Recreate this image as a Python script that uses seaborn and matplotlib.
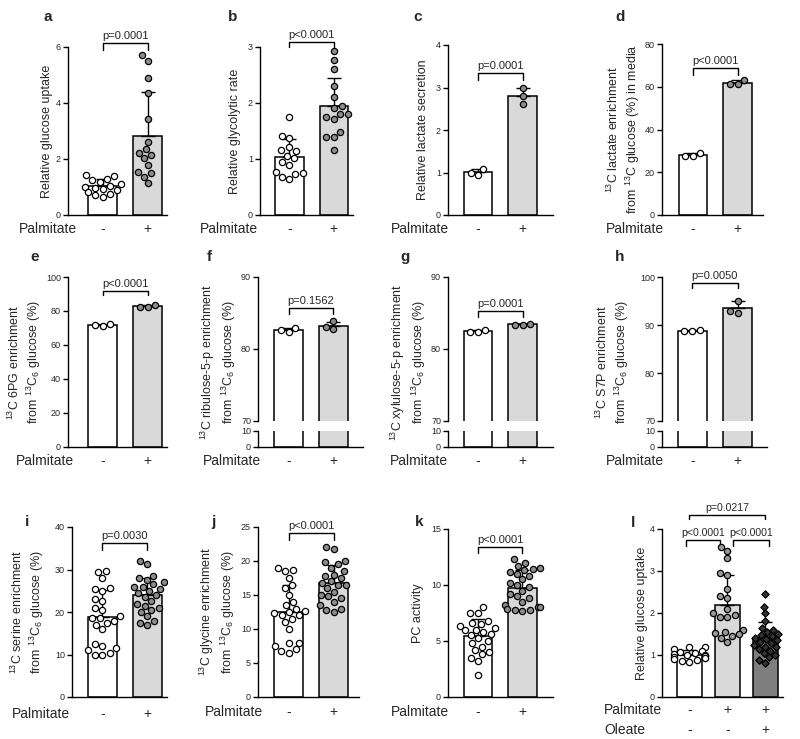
import warnings
import numpy as np
import pandas as pd
import seaborn as sns
import matplotlib.pyplot as plt

warnings.filterwarnings("ignore")

sns.set_style("ticks")
plt.rcParams["font.family"] = ["Liberation Sans", "DejaVu Sans"]
plt.rcParams["mathtext.fontset"] = "custom"
plt.rcParams["mathtext.rm"] = "Liberation Sans"
plt.rcParams["mathtext.it"] = "Liberation Sans:italic"
plt.rcParams["mathtext.bf"] = "Liberation Sans:bold"
plt.rcParams["axes.linewidth"] = 1.0
plt.rcParams["axes.edgecolor"] = "black"

# ---- data ----
two_groups = ["-", "+"]
three_groups = ["-\n-", "+\n-", "+\n+"]

a_ctrl = [1.42, 1.38, 1.30, 1.25, 1.18, 1.10, 1.05, 1.00, 0.97, 0.93, 0.88, 0.82, 0.76, 0.70, 0.65]
a_palm = [5.70, 5.50, 4.89, 4.36, 3.44, 2.61, 2.34, 2.22, 2.14, 2.02, 1.78, 1.54, 1.51, 1.37, 1.13]
b_ctrl = [1.75, 1.41, 1.37, 1.22, 1.16, 1.14, 1.06, 1.01, 0.95, 0.90, 0.77, 0.75, 0.74, 0.67, 0.65]
b_palm = [2.92, 2.76, 2.60, 2.30, 2.11, 1.94, 1.91, 1.81, 1.80, 1.75, 1.72, 1.49, 1.40, 1.40, 1.16]
c_ctrl = [1.08, 1.00, 0.94]
c_palm = [2.98, 2.80, 2.62]
d_ctrl = [27.6, 29.0, 27.5]
d_palm = [61.2, 63.2, 61.5]
e_ctrl = [71.2, 72.6, 71.9]
e_palm = [82.2, 83.4, 82.5]
f_ctrl = [82.3, 82.9, 82.7]
f_palm = [83.9, 83.0, 82.8]
g_ctrl = [82.3, 82.6, 82.4]
g_palm = [83.4, 83.5, 83.4]
h_ctrl = [88.7, 89.0, 88.8]
h_palm = [95.1, 92.6, 93.0]
i_ctrl = [29.6, 29.4, 28.0, 25.5, 25.6, 25.0, 23.0, 22.5, 21.0, 20.5, 19.0, 18.5,
          18.5, 18.0, 17.5, 17.0, 16.0, 12.5, 12.0, 11.5, 11.0, 10.0, 10.3, 10.0]
i_palm = [32.0, 31.3, 28.5, 28.0, 27.5, 27.0, 26.5, 26.0, 26.0, 25.5, 25.0, 24.5,
          24.0, 23.5, 22.5, 22.0, 21.5, 21.0, 20.5, 20.0, 19.0, 18.0, 17.5, 17.0]
j_ctrl = [19.0, 18.7, 18.5, 17.5, 16.5, 16.0, 15.0, 14.0, 13.5, 13.0, 12.7, 12.5,
          12.3, 12.0, 12.0, 11.5, 11.0, 10.0, 8.0, 8.0, 7.5, 7.0, 6.8, 6.5]
j_palm = [22.0, 21.7, 20.0, 19.8, 19.5, 19.0, 18.5, 18.0, 17.8, 17.5, 17.0, 16.8,
          16.5, 16.5, 16.0, 15.5, 15.0, 14.8, 14.5, 14.0, 13.5, 13.0, 12.8, 12.5]
k_ctrl = [8.0, 7.5, 7.5, 6.8, 6.6, 6.5, 6.3, 6.2, 6.0, 6.0, 5.8, 5.6, 5.5, 5.3,
          5.0, 4.8, 4.5, 4.2, 4.0, 3.8, 3.5, 3.2, 2.0]
k_palm = [12.3, 12.0, 11.7, 11.5, 11.4, 11.3, 11.2, 11.0, 10.8, 10.5, 10.2, 10.0, 9.8,
          9.5, 9.2, 9.0, 8.8, 8.5, 8.2, 8.0, 8.0, 7.9, 7.8, 7.8, 7.7]
l_ctrl = [1.20, 1.18, 1.15, 1.10, 1.08, 1.05, 1.02, 1.00, 1.00, 0.98, 0.95, 0.92,
          0.90, 0.88, 0.85, 0.83]
l_palm = [3.58, 3.48, 3.30, 2.95, 2.90, 2.58, 2.40, 2.35, 2.10, 2.00, 1.90, 1.95,
          1.90, 1.60, 1.55, 1.52, 1.50, 1.45, 1.40, 1.30]
l_palm_ole = [2.45, 2.15, 2.00, 1.80, 1.65, 1.60, 1.55, 1.50, 1.48, 1.45, 1.40, 1.38,
              1.35, 1.30, 1.28, 1.25, 1.20, 1.18, 1.15, 1.10, 1.05, 1.00, 0.95, 0.88, 0.82]

p_values = {
    "a": ["p=0.0001"], "b": ["p<0.0001"], "c": ["p=0.0001"], "d": ["p<0.0001"],
    "e": ["p<0.0001"], "f": ["p=0.1562"], "g": ["p=0.0001"], "h": ["p=0.0050"],
    "i": ["p=0.0030"], "j": ["p<0.0001"], "k": ["p<0.0001"],
    "l": ["p=0.0217", "p<0.0001", "p<0.0001"],
}

sub6 = r"from $^{13}$C$_6$ glucose (%)"
ylabels = {
    "a": "Relative glucose uptake",
    "b": "Relative glycolytic rate",
    "c": "Relative lactate secretion",
    "d": "$^{13}$C lactate enrichment\n" + r"from $^{13}$C glucose (%) in media",
    "e": "$^{13}$C 6PG enrichment\n" + sub6,
    "f": "$^{13}$C ribulose-5-p enrichment\n" + sub6,
    "g": "$^{13}$C xylulose-5-p enrichment\n" + sub6,
    "h": "$^{13}$C S7P enrichment\n" + sub6,
    "i": "$^{13}$C serine enrichment\n" + sub6,
    "j": "$^{13}$C glycine enrichment\n" + sub6,
    "k": "PC activity",
    "l": "Relative glucose uptake",
}

WHITE, LIGHT, MID, DARK = "white", "#d9d9d9", "#8c8c8c", "#7f7f7f"

# ---- layout (pixel boxes of each panel) ----
panels = [
    dict(key="a", data=[a_ctrl, a_palm], box=(68, 47, 167, 215), xlim=(-0.77, 1.43), ylim=(0, 6),
         yticks=[0, 2, 4, 6], ylx=47, letter=(43, 21), palm_x=19, pad=5,
         br=[(0, 1, 6.14, 0.25)]),
    dict(key="b", data=[b_ctrl, b_palm], box=(260, 47, 353, 215), xlim=(-0.66, 1.43), ylim=(0, 3),
         yticks=[0, 1, 2, 3], ylx=235, letter=(228, 21), palm_x=200, pad=5,
         br=[(0, 1, 3.09, 0.09)]),
    dict(key="c", data=[c_ctrl, c_palm], box=(448, 45, 553, 215), xlim=(-0.67, 1.68), ylim=(0, 4),
         yticks=[0, 1, 2, 3, 4], ylx=423, letter=(413, 21), palm_x=391, pad=5,
         br=[(0, 1, 3.34, 0.16)]),
    dict(key="d", data=[d_ctrl, d_palm], box=(662, 44, 763, 215), xlim=(-0.69, 1.56), ylim=(0, 80),
         yticks=[0, 20, 40, 60, 80], ylx=624, letter=(615, 21), palm_x=606, pad=5,
         br=[(0, 1, 68.6, 3.1)]),
    dict(key="e", data=[e_ctrl, e_palm], box=(68, 277, 167, 447), xlim=(-0.77, 1.43), ylim=(0, 100),
         yticks=[0, 20, 40, 60, 80, 100], ylx=25, letter=(30, 261), palm_x=16, pad=5,
         br=[(0, 1, 91.8, 2.4)]),
    dict(key="f", data=[f_ctrl, f_palm], box=(258, 277, 363, 447), xlim=(-0.68, 1.66), ylim=(70, 90),
         yticks=[70, 80, 90], ylx=218, letter=(207, 261), palm_x=203, pad=5, broken=True,
         br=[(0, 1, 85.7, 0.8)]),
    dict(key="g", data=[g_ctrl, g_palm], box=(448, 277, 553, 447), xlim=(-0.67, 1.68), ylim=(70, 90),
         yticks=[70, 80, 90], ylx=408, letter=(400, 261), palm_x=390, pad=5, broken=True,
         br=[(0, 1, 85.3, 0.9)]),
    dict(key="h", data=[h_ctrl, h_palm], box=(662, 277, 767, 447), xlim=(-0.67, 1.65), ylim=(70, 100),
         yticks=[70, 80, 90, 100], ylx=613, letter=(615, 261), palm_x=606, pad=5, broken=True,
         br=[(0, 1, 98.75, 1.0)]),
    dict(key="i", data=[i_ctrl, i_palm], box=(72, 527, 167, 697), xlim=(-0.68, 1.44), ylim=(0, 40),
         yticks=[0, 10, 20, 30, 40], ylx=28, letter=(25, 526), palm_x=12, pad=7,
         br=[(0, 1, 36.2, 1.6)]),
    dict(key="j", data=[j_ctrl, j_palm], box=(258, 527, 359, 697), xlim=(-0.68, 1.56), ylim=(0, 25),
         yticks=[0, 5, 10, 15, 20, 25], ylx=217, letter=(211, 526), palm_x=205, pad=6,
         br=[(0, 1, 24.1, 1.0)]),
    dict(key="k", data=[k_ctrl, k_palm], box=(448, 529, 553, 697), xlim=(-0.68, 1.69), ylim=(0, 15),
         yticks=[0, 5, 10, 15], ylx=418, letter=(415, 526), palm_x=391, pad=6,
         br=[(0, 1, 13.4, 0.55)]),
    dict(key="l", data=[l_ctrl, l_palm, l_palm_ole], box=(662, 529, 783, 697), xlim=(-0.72, 2.46),
         ylim=(0, 4), yticks=[0, 1, 2, 3, 4], ylx=642, letter=(631, 527), palm_x=604, pad=4,
         br=[(0, 2, 4.33, 0.1), (-0.08, 0.8, 3.74, 0.14), (1.14, 2.1, 3.74, 0.14)]),
]

W, H = 800, 739
fig = plt.figure(figsize=(8, 7.39), dpi=100)


def add_ax(x0, y0, x1, y1):
    return fig.add_axes([x0 / W, 1 - y1 / H, (x1 - x0) / W, (y1 - y0) / H])


def draw(ax, df, names, bar_cols, pt_cols, markers, points=True):
    sns.barplot(data=df, x="group", y="value", order=names, hue="group", hue_order=names,
                palette=dict(zip(names, bar_cols)), errorbar=None, width=0.64,
                edgecolor="black", linewidth=1.1, legend=False, ax=ax)
    if not points:
        return
    stats = df.groupby("group", sort=False)["value"].agg(["mean", "std"]).reindex(names)
    for i, (m, s) in enumerate(stats.itertuples(index=False)):
        ax.errorbar(i, m, yerr=[[0], [s]], fmt="none", ecolor="black", elinewidth=1,
                    capsize=5, capthick=1, zorder=2.5)
    for name, col, mk in zip(names, pt_cols, markers):
        sns.swarmplot(data=df[df.group == name], x="group", y="value", order=names, color=col,
                      marker=mk, size=4.5 if mk == "o" else 3.7, edgecolor="black",
                      linewidth=0.9, ax=ax, zorder=3)


def style(ax, p, ylim, yticks, xlabels=True):
    ax.set_xlim(p["xlim"])
    ax.set_ylim(ylim)
    ax.set_yticks(yticks)
    ax.set_xlabel("")
    ax.set_ylabel("")
    sns.despine(ax=ax)
    ax.tick_params(axis="y", length=3.5, width=1, labelsize=6.5, pad=1.5, color="black")
    ax.tick_params(axis="x", length=0, labelsize=10, pad=p["pad"], labelbottom=xlabels)


for p in panels:
    key = p["key"]
    n = len(p["data"])
    names = two_groups if n == 2 else three_groups
    df = pd.DataFrame({"group": np.repeat(names, [len(v) for v in p["data"]]),
                       "value": np.concatenate(p["data"])})
    bar_cols = [WHITE, LIGHT] if n == 2 else [WHITE, LIGHT, DARK]
    pt_cols = [WHITE, MID] if n == 2 else [WHITE, "#999999", "#333333"]
    markers = ["o", "o"] if n == 2 else ["o", "o", "D"]

    x0, y0, x1, y1 = p["box"]
    if p.get("broken"):
        ax = add_ax(x0, y0, x1, 421)
        low = add_ax(x0, 431, x1, y1)
        draw(ax, df, names, bar_cols, pt_cols, markers)
        draw(low, df, names, bar_cols, pt_cols, markers, points=False)
        style(ax, p, p["ylim"], p["yticks"], xlabels=False)
        ax.spines["bottom"].set_visible(False)
        ax.tick_params(axis="x", bottom=False)
        style(low, p, (0, 10), [0, 10])
        lab_ax = low
    else:
        ax = add_ax(x0, y0, x1, y1)
        draw(ax, df, names, bar_cols, pt_cols, markers)
        style(ax, p, p["ylim"], p["yticks"])
        lab_ax = ax

    for lbl in lab_ax.get_xticklabels():
        lbl.set_linespacing(1.55)

    # significance brackets
    fs = 8 if n == 2 else 7.6
    for (bx0, bx1, by, drop), txt in zip(p["br"], p_values[key]):
        ax.plot([bx0, bx0, bx1, bx1], [by - drop, by, by, by - drop], color="black",
                lw=1, clip_on=False)
        ax.annotate(txt, xy=((bx0 + bx1) / 2, by), xytext=(0, 1.5), textcoords="offset points",
                    ha="center", va="bottom", fontsize=fs, annotation_clip=False)

    # y label, panel letter, row label
    fig.text(p["ylx"] / W, 1 - (y0 + y1) / 2 / H, ylabels[key], rotation=90,
             ha="center", va="center", fontsize=9)
    fig.text(p["letter"][0] / W, 1 - p["letter"][1] / H, key, fontsize=11,
             fontweight="bold", va="baseline", ha="left")
    row_txt = "Palmitate" if n == 2 else "Palmitate\nOleate"
    fig.text(p["palm_x"] / W, 1 - (y1 + p["pad"] * 100 / 72) / H, row_txt, fontsize=10,
             ha="left", va="top", linespacing=1.55)

fig.savefig("out.png", dpi=100)
